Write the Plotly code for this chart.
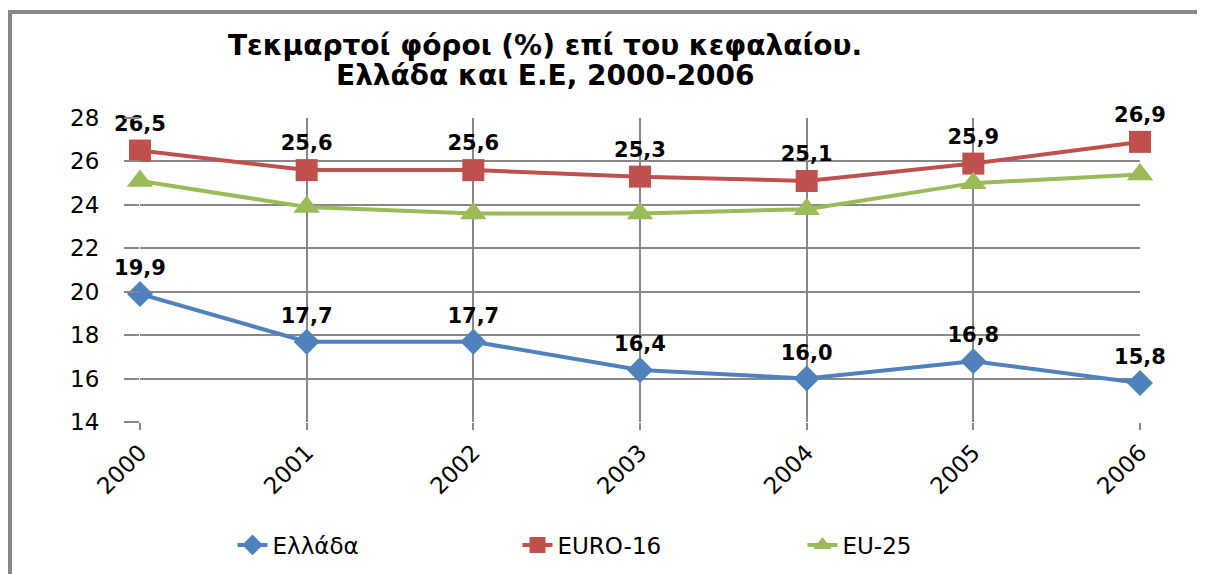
import plotly.graph_objects as go

years = ["2000", "2001", "2002", "2003", "2004", "2005", "2006"]
greece = [19.9, 17.7, 17.7, 16.4, 16.0, 16.8, 15.8]
euro16 = [26.5, 25.6, 25.6, 25.3, 25.1, 25.9, 26.9]
eu25 = [25.1, 23.9, 23.6, 23.6, 23.8, 25.0, 25.4]
y_ticks = [14, 16, 18, 20, 22, 24, 26, 28]

title_line1 = "Τεκμαρτοί φόροι (%) επί του κεφαλαίου."
title_line2 = "Ελλάδα και Ε.Ε, 2000-2006"

def lab(vals):
    return [f"{v:.1f}".replace(".", ",") for v in vals]

label_font = dict(family="DejaVu Sans", size=21, color="black", weight="bold")

fig = go.Figure()
fig.add_trace(go.Scatter(
    x=years, y=greece, name="Ελλάδα", mode="lines+markers+text",
    line=dict(color="#4F81BD", width=4),
    marker=dict(symbol="diamond", size=20, color="#4F81BD"),
    text=lab(greece), textposition="top center", textfont=label_font,
    cliponaxis=False,
))
fig.add_trace(go.Scatter(
    x=years, y=euro16, name="EURO-16", mode="lines+markers+text",
    line=dict(color="#C0504D", width=4),
    marker=dict(symbol="square", size=22, color="#C0504D"),
    text=lab(euro16), textposition="top center", textfont=label_font,
    cliponaxis=False,
))
fig.add_trace(go.Scatter(
    x=years, y=eu25, name="EU-25", mode="lines+markers",
    line=dict(color="#9BBB59", width=4),
    marker=dict(symbol="triangle-up", size=23, color="#9BBB59"),
    cliponaxis=False,
))

title_font = dict(family="DejaVu Sans", size=28, color="black", weight="bold")

fig.update_layout(
    width=1205, height=574,
    margin=dict(l=132, r=73, t=110, b=160, autoexpand=False),
    paper_bgcolor="white", plot_bgcolor="white",
    annotations=[
        dict(text=title_line1, xref="paper", yref="paper", x=0.405, y=(422 - 46) / 304,
             xanchor="center", yanchor="middle", showarrow=False, font=title_font),
        dict(text=title_line2, xref="paper", yref="paper", x=0.405, y=(422 - 75) / 304,
             xanchor="center", yanchor="middle", showarrow=False, font=title_font),
    ],
    xaxis=dict(
        type="category", range=[0, 6], showgrid=True, gridcolor="#888888",
        gridwidth=2, ticks="outside", ticklen=7, tickcolor="#888888", tickwidth=2,
        tickangle=-45, showline=False, zeroline=False,
        tickfont=dict(family="DejaVu Sans", size=23, color="black"),
    ),
    yaxis=dict(
        range=[14, 28], tickvals=y_ticks, showgrid=True, gridcolor="#888888",
        gridwidth=2, ticks="outside", ticklen=15, tickcolor="#888888", tickwidth=2,
        showline=False, zeroline=False, ticklabelstandoff=20,
        tickfont=dict(family="DejaVu Sans", size=23, color="black"),
    ),
    legend=dict(
        orientation="h", xref="paper", x=0.52, xanchor="center",
        yref="container", y=1 - 537 / 574, yanchor="middle",
        font=dict(family="DejaVu Sans", size=23, color="black"),
        entrywidth=240, entrywidthmode="pixels",
    ),
    showlegend=True,
    shapes=[dict(
        type="rect", xref="paper", yref="paper",
        x0=-0.13, x1=1.2, y0=-0.6, y1=1.349,
        line=dict(color="#888888", width=4), fillcolor="rgba(0,0,0,0)",
        layer="below",
    )],
)

fig.write_html("out.html")
